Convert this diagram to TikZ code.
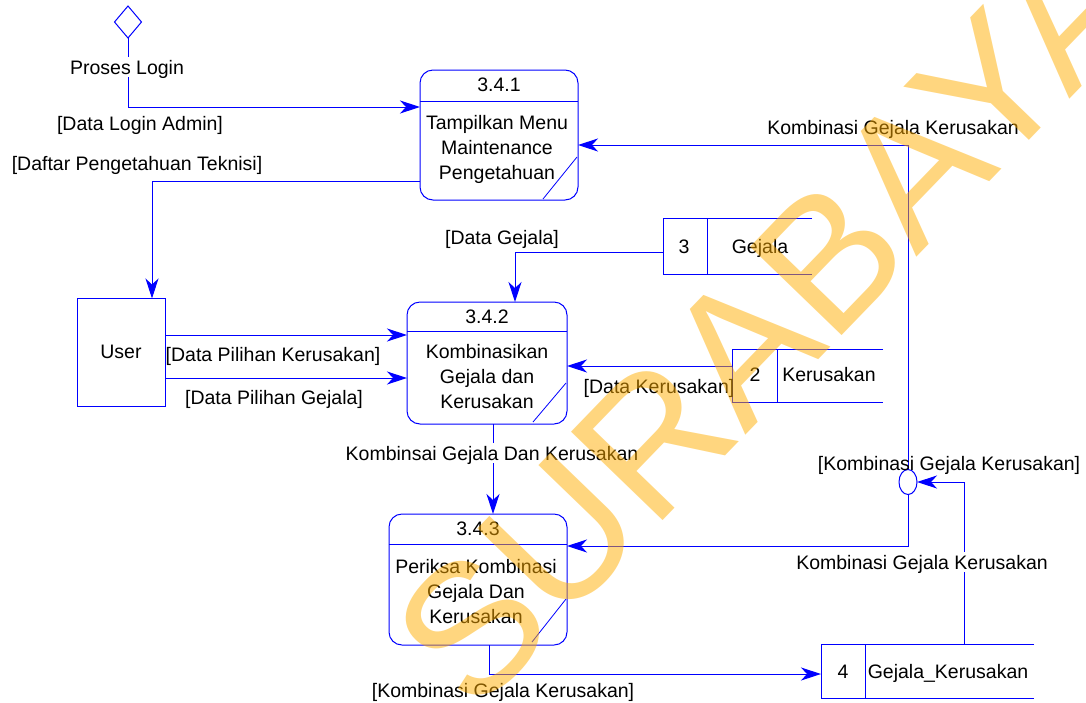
\documentclass[tikz,border=0pt]{standalone}
\usepackage{fontspec}
\setmainfont{Liberation Sans}
\usetikzlibrary{arrows.meta,shapes.geometric}
\definecolor{dfdblue}{RGB}{0,0,255}
\definecolor{wmorange}{RGB}{255,173,0}
\begin{document}
\begin{tikzpicture}[x=1pt,y=-1pt,
  every node/.style={inner sep=0pt, outer sep=0pt},
  txt/.style={font=\fontsize{19.5}{25}\selectfont, text=black},
  lbl/.style={txt, text height=14pt, text depth=0pt},
  onwire/.style={lbl, fill=white, inner xsep=1pt, inner ysep=3pt},
  proc/.style={draw=dfdblue, line width=1pt, rounded corners=13pt, rectangle},
  procline/.style={draw=dfdblue, line width=0.8pt},
  storebox/.style={rectangle},
  storeline/.style={draw=dfdblue, line width=1pt},
  extbox/.style={draw=dfdblue, line width=1pt, rectangle},
  wire/.style={draw=dfdblue, line width=1pt},
  flow/.style={wire, -{Stealth[length=20pt,width=13pt,inset=6pt]}},
]
\useasboundingbox (0,0) rectangle (1086,702);

% ---------- reference levels for connectors ----------
\coordinate (yLogin) at (0,107);
\coordinate (yDaftar) at (152,181);
\coordinate (yPilK) at (0,335);
\coordinate (yPilG) at (0,378);
\coordinate (yGej) at (515,252);
\coordinate (yKer) at (0,366);
\coordinate (xP2P3) at (493,0);
\coordinate (yToP1) at (0,145);
\coordinate (yToJ) at (964,481);
\coordinate (yToP3) at (0,546);
\coordinate (yToS4) at (489,674);

% ---------- start symbol ----------
\node[diamond, draw=dfdblue, line width=1pt, minimum width=27pt, minimum height=32pt] (start) at (128,22) {};

% ---------- external entity ----------
\node[extbox, minimum width=88pt, minimum height=108pt] (user) at (121,352.5) {};
\node[lbl] (userT) at (121,351) {User};

% ---------- processes ----------
\node[proc, minimum width=158pt, minimum height=130pt] (p1) at (499,135) {};
\draw[procline] (p1.west |- 0,101) -- (p1.east |- 0,101);
\draw[procline] (543,199) -- (577,157);
\node[lbl] (p1id) at (499,84) {3.4.1};
\node[txt, align=center] (p1T) at (497,149) {Tampilkan Menu\\Maintenance\\Pengetahuan};

\node[proc, minimum width=160pt, minimum height=122pt] (p2) at (487,363) {};
\draw[procline] (p2.west |- 0,331) -- (p2.east |- 0,331);
\draw[procline] (533,422) -- (566,383);
\node[lbl] (p2id) at (487,316) {3.4.2};
\node[txt, align=center] (p2T) at (487,377) {Kombinasikan\\Gejala dan\\Kerusakan};

\node[proc, minimum width=178pt, minimum height=131pt] (p3) at (478,579.5) {};
\draw[procline] (p3.west |- 0,544) -- (p3.east |- 0,544);
\draw[procline] (532,642) -- (566,599);
\node[lbl] (p3id) at (478,528) {3.4.3};
\node[txt, align=center] (p3T) at (476,592) {Periksa Kombinasi\\Gejala Dan\\Kerusakan};

% ---------- data stores (open on the right) ----------
\node[storebox, minimum width=149pt, minimum height=56pt] (s3) at (737.5,246) {};
\draw[storeline] (s3.north east) -- (s3.north west) -- (s3.south west) -- (s3.south east);
\draw[storeline] (707,218) -- (707,274);
\node[lbl] (s3id) at (684,246) {3};
\node[lbl] (s3T) at (760,246) {Gejala};

\node[storebox, minimum width=151pt, minimum height=53pt] (s2) at (807.5,375.5) {};
\draw[storeline] (s2.north east) -- (s2.north west) -- (s2.south west) -- (s2.south east);
\draw[storeline] (777,349) -- (777,402);
\node[lbl] (s2id) at (755,374) {2};
\node[lbl] (s2T) at (829,374) {Kerusakan};

\node[storebox, minimum width=213pt, minimum height=54pt] (s4) at (927.5,671) {};
\draw[storeline] (s4.north east) -- (s4.north west) -- (s4.south west) -- (s4.south east);
\draw[storeline] (865,644) -- (865,698);
\node[lbl] (s4id) at (843,671) {4};
\node[lbl] (s4T) at (948,671) {Gejala\_Kerusakan};

% ---------- junction ----------
\node[ellipse, draw=dfdblue, line width=1pt, minimum width=18pt, minimum height=25pt] (j) at (908,482) {};

% ---------- data flows ----------
\draw[flow] (start.south) |- (p1.west |- yLogin);
\node[onwire] (lLogin) at (127,67) {Proses Login};
\node[lbl] (lAdmin) at (140,123) {[Data Login Admin]};

\draw[flow] (p1.west |- yDaftar) -| (user.north -| yDaftar);
\node[lbl] (lDaftar) at (137,163) {[Daftar Pengetahuan Teknisi]};

\draw[flow] (user.east |- yPilK) -- (p2.west |- yPilK);
\node[lbl] (lPilK) at (273,354) {[Data Pilihan Kerusakan]};
\draw[flow] (user.east |- yPilG) -- (p2.west |- yPilG);
\node[lbl] (lPilG) at (274,397) {[Data Pilihan Gejala]};

\draw[flow] (s3.west |- yGej) -| (p2.north -| yGej);
\node[lbl] (lGej) at (502,237) {[Data Gejala]};

\draw[flow] (s2.west |- yKer) -- (p2.east |- yKer);
\node[lbl] (lKer) at (659,386) {[Data Kerusakan]};

\draw[flow] (p2.south -| xP2P3) -- (p3.north -| xP2P3);
\node[onwire] (lKomb) at (492,453) {Kombinsai Gejala Dan Kerusakan};

\draw[flow] (j.north) |- (p1.east |- yToP1);
\node[lbl] (lToP1) at (893,127) {Kombinasi Gejala Kerusakan};

\draw[flow] (s4.north -| yToJ) |- (j.east);
\node[lbl] (lToJ) at (949,463) {[Kombinasi Gejala Kerusakan]};
\node[onwire] (lFromS4) at (922,562) {Kombinasi Gejala Kerusakan};

\draw[flow] (j.south) |- (p3.east |- yToP3);

\draw[flow] (p3.south -| yToS4) |- (s4.west |- yToS4);
\node[lbl] (lToS4) at (503,690) {[Kombinasi Gejala Kerusakan]};

% ---------- watermark ----------
\node[rotate=46, anchor=base west, text=wmorange, text opacity=0.5,
      font=\fontsize{185}{185}\selectfont] (wm) at (474,716) {SURABAYA};
\end{tikzpicture}
\end{document}
